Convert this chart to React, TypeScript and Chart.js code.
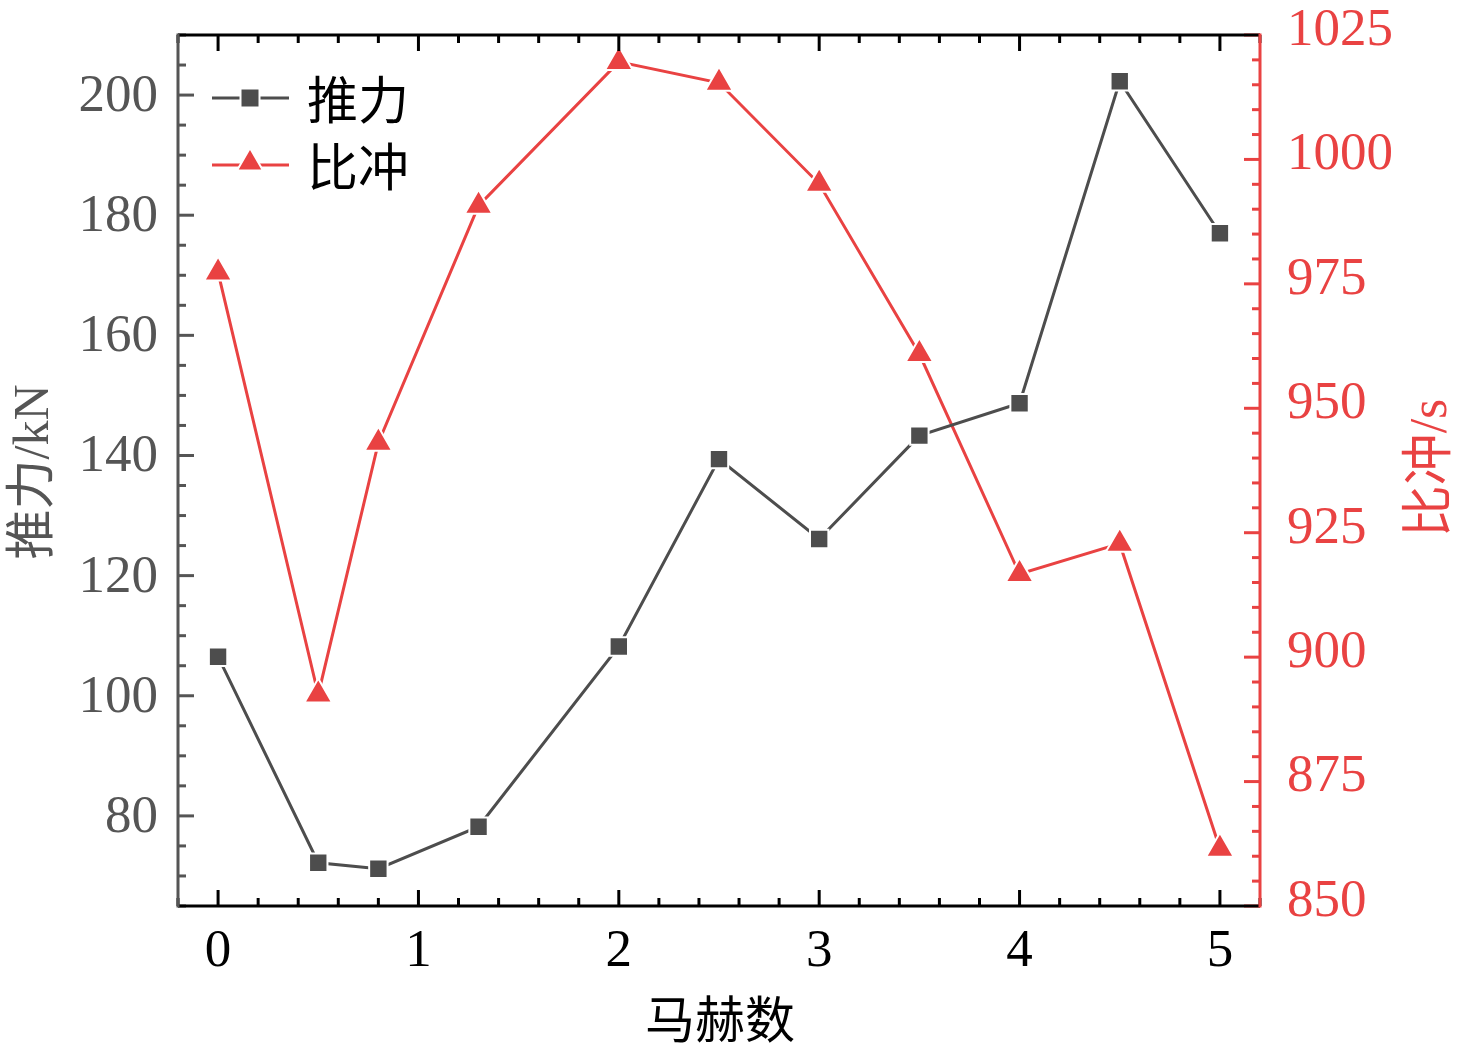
import { useEffect, useRef } from "react";
import { Chart, registerables } from "chart.js";

Chart.register(...registerables);

// Mach number vs thrust / specific impulse
const MACH = [0, 0.5, 0.8, 1.3, 2, 2.5, 3, 3.5, 4, 4.5, 5];
const THRUST = [106.5, 72.2, 71.2, 78.2, 108.2, 139.4, 126.1, 143.3, 148.7, 202.3, 177.0];
const ISP = [977.3, 892.5, 943.1, 990.7, 1019.6, 1015.4, 995.1, 960.9, 916.7, 922.8, 861.5];

const X_TICKS = [0, 1, 2, 3, 4, 5];
const THRUST_TICKS = [80, 100, 120, 140, 160, 180, 200];
const ISP_TICKS = [850, 875, 900, 925, 950, 975, 1000, 1025];

const X_TITLE = "马赫数";
const THRUST_TITLE = "推力/kN";
const ISP_TITLE = "比冲/s";
const THRUST_NAME = "推力";
const ISP_NAME = "比冲";

const GRAY = "#4d4d4d";
const AXIS_GRAY = "#555555";
const RED = "#e94242";
const SERIF = "'Liberation Serif', 'Noto Sans CJK SC', serif";
const CJK = "'Noto Sans CJK SC', sans-serif";

function steps(min: number, max: number, step: number) {
  const out: number[] = [];
  for (let v = min; v <= max + 1e-9; v += step) out.push(Math.round(v * 1000) / 1000);
  return out;
}

const axesPlugin = {
  id: "originAxes",
  afterDraw(chart: any) {
    const { ctx, chartArea: a, scales } = chart;
    const x = scales.x;
    const y = scales.y;
    const y1 = scales.y1;
    const MAJ = 16;
    const MIN = 8;

    ctx.save();
    ctx.lineWidth = 3;
    ctx.lineCap = "butt";

    const line = (color: string, x1: number, yA: number, x2: number, yB: number) => {
      ctx.strokeStyle = color;
      ctx.beginPath();
      ctx.moveTo(x1, yA);
      ctx.lineTo(x2, yB);
      ctx.stroke();
    };

    // x ticks (bottom and top, inward)
    steps(x.min, x.max, 0.2).forEach((v) => {
      const px = x.getPixelForValue(v);
      const len = X_TICKS.includes(v) ? MAJ : MIN;
      line("#000", px, a.bottom, px, a.bottom - len);
      line("#000", px, a.top, px, a.top + len);
    });

    // left ticks
    steps(y.min, y.max, 5).forEach((v) => {
      const py = y.getPixelForValue(v);
      const len = THRUST_TICKS.includes(v) ? MAJ : MIN;
      line(AXIS_GRAY, a.left, py, a.left + len, py);
    });

    // right ticks
    steps(y1.min, y1.max, 5).forEach((v) => {
      const py = y1.getPixelForValue(v);
      const len = ISP_TICKS.includes(v) ? MAJ : MIN;
      line(RED, a.right, py, a.right - len, py);
    });

    // frame
    line("#000", a.left, a.bottom, a.right, a.bottom);
    line("#000", a.left, a.top, a.right, a.top);
    line(AXIS_GRAY, a.left, a.top - 1.5, a.left, a.bottom + 1.5);
    line(RED, a.right, a.top - 1.5, a.right, a.bottom + 1.5);

    // axis titles
    ctx.textAlign = "center";
    ctx.textBaseline = "middle";
    ctx.fillStyle = "#000";
    ctx.font = `50px ${CJK}`;
    ctx.fillText(X_TITLE, (a.left + a.right) / 2 + 1, 1019);

    ctx.save();
    ctx.translate(35, 472);
    ctx.rotate(-Math.PI / 2);
    ctx.fillStyle = AXIS_GRAY;
    ctx.font = `50px ${SERIF}`;
    ctx.fillText(THRUST_TITLE, 0, 0);
    ctx.restore();

    ctx.save();
    ctx.translate(1432, 468);
    ctx.rotate(-Math.PI / 2);
    ctx.fillStyle = RED;
    ctx.font = `52px ${SERIF}`;
    ctx.fillText(ISP_TITLE, 0, 0);
    ctx.restore();

    // legend
    const lx = 212;
    const rows = [
      { name: THRUST_NAME, color: GRAY, y: 98, shape: "rect" },
      { name: ISP_NAME, color: RED, y: 165, shape: "triangle" }
    ];
    rows.forEach((r) => {
      line(r.color, lx, r.y, lx + 77, r.y);
      const cx = lx + 38;
      ctx.fillStyle = r.color;
      ctx.strokeStyle = "#fff";
      ctx.lineWidth = 2;
      ctx.beginPath();
      if (r.shape === "rect") {
        ctx.rect(cx - 9.5, r.y - 9.5, 19, 19);
      } else {
        const rad = 15;
        const cy = r.y - 2;
        ctx.moveTo(cx, cy - rad);
        ctx.lineTo(cx + rad * 0.866, cy + rad / 2);
        ctx.lineTo(cx - rad * 0.866, cy + rad / 2);
        ctx.closePath();
      }
      ctx.fill();
      ctx.stroke();
      ctx.lineWidth = 3;
      ctx.fillStyle = "#000";
      ctx.textAlign = "left";
      ctx.textBaseline = "middle";
      ctx.font = `51px ${CJK}`;
      ctx.fillText(r.name, lx + 95, r.y + 2);
    });

    ctx.restore();
  }
};

export default function App() {
  const canvasRef = useRef<HTMLCanvasElement>(null);
  const chartRef = useRef<Chart | null>(null);

  useEffect(() => {
    if (!canvasRef.current) return;
    if (chartRef.current) chartRef.current.destroy();

    const thrustPts = MACH.map((m, i) => ({ x: m, y: THRUST[i] }));
    const ispPts = MACH.map((m, i) => ({ x: m, y: ISP[i] }));

    chartRef.current = new Chart(canvasRef.current, {
      type: "line",
      data: {
        datasets: [
          {
            label: THRUST_NAME,
            data: thrustPts,
            yAxisID: "y",
            borderColor: GRAY,
            borderWidth: 3,
            backgroundColor: GRAY,
            pointStyle: "rect",
            pointRadius: 13,
            pointBackgroundColor: GRAY,
            pointBorderColor: "#ffffff",
            pointBorderWidth: 2,
            tension: 0,
            clip: false
          },
          {
            label: ISP_NAME,
            data: ispPts,
            yAxisID: "y1",
            borderColor: RED,
            borderWidth: 3,
            backgroundColor: RED,
            pointStyle: "triangle",
            pointRadius: 16,
            pointBackgroundColor: RED,
            pointBorderColor: "#ffffff",
            pointBorderWidth: 2,
            tension: 0,
            clip: false
          }
        ]
      },
      options: {
        animation: false,
        responsive: true,
        maintainAspectRatio: false,
        layout: { padding: { top: 35, left: 0, right: 0, bottom: 0 } },
        plugins: {
          legend: { display: false },
          tooltip: { enabled: false }
        },
        scales: {
          x: {
            type: "linear",
            position: "bottom",
            min: -0.2,
            max: 5.2,
            afterBuildTicks: (s: any) => {
              s.ticks = X_TICKS.map((v) => ({ value: v }));
            },
            afterFit: (s: any) => {
              s.height = 151;
              s.paddingLeft = 0;
              s.paddingRight = 0;
            },
            grid: { display: false, drawTicks: false },
            border: { display: false },
            ticks: {
              color: "#000",
              padding: 14,
              maxRotation: 0,
              callback: (v: any) => String(v),
              font: { family: SERIF, size: 53 }
            }
          },
          y: {
            type: "linear",
            position: "left",
            min: 65,
            max: 210,
            afterBuildTicks: (s: any) => {
              s.ticks = THRUST_TICKS.map((v) => ({ value: v }));
            },
            afterFit: (s: any) => {
              s.width = 178;
              s.paddingTop = 0;
              s.paddingBottom = 0;
            },
            grid: { display: false, drawTicks: false },
            border: { display: false },
            ticks: {
              color: AXIS_GRAY,
              padding: 20,
              labelOffset: 2,
              callback: (v: any) => String(v),
              font: { family: SERIF, size: 53 }
            }
          },
          y1: {
            type: "linear",
            position: "right",
            min: 850,
            max: 1025,
            afterBuildTicks: (s: any) => {
              s.ticks = ISP_TICKS.map((v) => ({ value: v }));
            },
            afterFit: (s: any) => {
              s.width = 216;
              s.paddingTop = 0;
              s.paddingBottom = 0;
            },
            grid: { display: false, drawTicks: false },
            border: { display: false },
            ticks: {
              color: RED,
              padding: 27,
              labelOffset: -4,
              callback: (v: any) => String(v),
              font: { family: SERIF, size: 53 }
            }
          }
        }
      },
      plugins: [axesPlugin]
    });

    return () => {
      if (chartRef.current) {
        chartRef.current.destroy();
        chartRef.current = null;
      }
    };
  }, []);

  return (
    <div
      style={{
        position: "fixed",
        left: 0,
        top: 0,
        width: 1476,
        height: 1057,
        background: "#fff"
      }}
    >
      <canvas ref={canvasRef} />
    </div>
  );
}
